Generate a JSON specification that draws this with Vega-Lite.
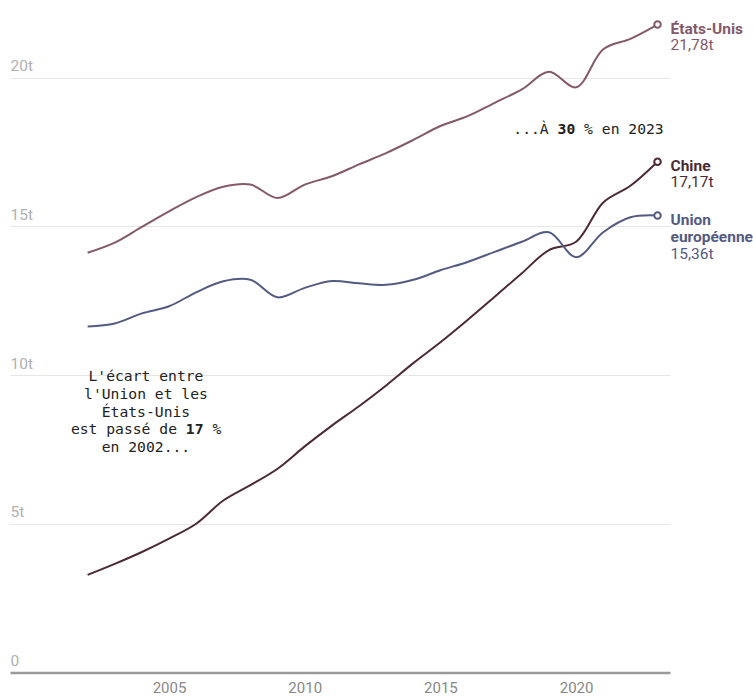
{
  "$schema": "https://vega.github.io/schema/vega-lite/v6.json",
  "width": 660,
  "height": 654.5,
  "autosize": "none",
  "padding": {"left": 10, "top": 18, "right": 83, "bottom": 23.5},
  "background": "white",
  "config": {"view": {"stroke": null}, "font": "Roboto"},
  "datasets": {
    "pib": [
      {"annee": 2002, "pays": "États-Unis", "pib": 14.11},
      {"annee": 2003, "pays": "États-Unis", "pib": 14.45},
      {"annee": 2004, "pays": "États-Unis", "pib": 14.98},
      {"annee": 2005, "pays": "États-Unis", "pib": 15.5},
      {"annee": 2006, "pays": "États-Unis", "pib": 15.98},
      {"annee": 2007, "pays": "États-Unis", "pib": 16.33},
      {"annee": 2008, "pays": "États-Unis", "pib": 16.4},
      {"annee": 2009, "pays": "États-Unis", "pib": 15.95},
      {"annee": 2010, "pays": "États-Unis", "pib": 16.4},
      {"annee": 2011, "pays": "États-Unis", "pib": 16.68},
      {"annee": 2012, "pays": "États-Unis", "pib": 17.08},
      {"annee": 2013, "pays": "États-Unis", "pib": 17.46},
      {"annee": 2014, "pays": "États-Unis", "pib": 17.9},
      {"annee": 2015, "pays": "États-Unis", "pib": 18.37},
      {"annee": 2016, "pays": "États-Unis", "pib": 18.7},
      {"annee": 2017, "pays": "États-Unis", "pib": 19.15},
      {"annee": 2018, "pays": "États-Unis", "pib": 19.6},
      {"annee": 2019, "pays": "États-Unis", "pib": 20.19},
      {"annee": 2020, "pays": "États-Unis", "pib": 19.67},
      {"annee": 2021, "pays": "États-Unis", "pib": 20.95},
      {"annee": 2022, "pays": "États-Unis", "pib": 21.3},
      {"annee": 2023, "pays": "États-Unis", "pib": 21.78},
      {"annee": 2002, "pays": "Chine", "pib": 3.28},
      {"annee": 2003, "pays": "Chine", "pib": 3.65},
      {"annee": 2004, "pays": "Chine", "pib": 4.05},
      {"annee": 2005, "pays": "Chine", "pib": 4.5},
      {"annee": 2006, "pays": "Chine", "pib": 5.0},
      {"annee": 2007, "pays": "Chine", "pib": 5.78},
      {"annee": 2008, "pays": "Chine", "pib": 6.3},
      {"annee": 2009, "pays": "Chine", "pib": 6.85},
      {"annee": 2010, "pays": "Chine", "pib": 7.6},
      {"annee": 2011, "pays": "Chine", "pib": 8.3},
      {"annee": 2012, "pays": "Chine", "pib": 8.95},
      {"annee": 2013, "pays": "Chine", "pib": 9.65},
      {"annee": 2014, "pays": "Chine", "pib": 10.4},
      {"annee": 2015, "pays": "Chine", "pib": 11.1},
      {"annee": 2016, "pays": "Chine", "pib": 11.85},
      {"annee": 2017, "pays": "Chine", "pib": 12.63},
      {"annee": 2018, "pays": "Chine", "pib": 13.42},
      {"annee": 2019, "pays": "Chine", "pib": 14.2},
      {"annee": 2020, "pays": "Chine", "pib": 14.48},
      {"annee": 2021, "pays": "Chine", "pib": 15.8},
      {"annee": 2022, "pays": "Chine", "pib": 16.36},
      {"annee": 2023, "pays": "Chine", "pib": 17.17},
      {"annee": 2002, "pays": "Union européenne", "pib": 11.63},
      {"annee": 2003, "pays": "Union européenne", "pib": 11.73},
      {"annee": 2004, "pays": "Union européenne", "pib": 12.07},
      {"annee": 2005, "pays": "Union européenne", "pib": 12.31},
      {"annee": 2006, "pays": "Union européenne", "pib": 12.78},
      {"annee": 2007, "pays": "Union européenne", "pib": 13.15},
      {"annee": 2008, "pays": "Union européenne", "pib": 13.2},
      {"annee": 2009, "pays": "Union européenne", "pib": 12.61},
      {"annee": 2010, "pays": "Union européenne", "pib": 12.93},
      {"annee": 2011, "pays": "Union européenne", "pib": 13.16},
      {"annee": 2012, "pays": "Union européenne", "pib": 13.08},
      {"annee": 2013, "pays": "Union européenne", "pib": 13.03},
      {"annee": 2014, "pays": "Union européenne", "pib": 13.2},
      {"annee": 2015, "pays": "Union européenne", "pib": 13.52},
      {"annee": 2016, "pays": "Union européenne", "pib": 13.8},
      {"annee": 2017, "pays": "Union européenne", "pib": 14.14},
      {"annee": 2018, "pays": "Union européenne", "pib": 14.48},
      {"annee": 2019, "pays": "Union européenne", "pib": 14.8},
      {"annee": 2020, "pays": "Union européenne", "pib": 13.96},
      {"annee": 2021, "pays": "Union européenne", "pib": 14.8},
      {"annee": 2022, "pays": "Union européenne", "pib": 15.3},
      {"annee": 2023, "pays": "Union européenne", "pib": 15.36}
    ],
    "etiquettes": [
      {"annee": 2023, "pays": "États-Unis", "pib": 21.78, "valeur": "21,78t"},
      {"annee": 2023, "pays": "Chine", "pib": 17.17, "valeur": "17,17t"},
      {"annee": 2023, "pays": "Union européenne", "pib": 15.36, "valeur": "15,36t"}
    ],
    "notesCentre": [
      {"annee": 2004.15, "pib": 9.94, "texte": "L'écart entre\nl'Union et les\nÉtats-Unis"},
      {"annee": 2004.15, "pib": 7.534, "texte": "en 2002..."}
    ],
    "notesDroite": [
      {"annee": 2005.294, "pib": 8.135, "texte": "est passé de"},
      {"annee": 2018.99, "pib": 18.23, "texte": "...À"}
    ],
    "notesGauche": [
      {"annee": 2006.598, "pib": 8.135, "texte": "%"},
      {"annee": 2020.295, "pib": 18.23, "texte": "% en 2023"}
    ],
    "gras": [
      {"annee": 2005.946, "pib": 8.135, "texte": "17"},
      {"annee": 2019.643, "pib": 18.23, "texte": "30"}
    ]
  },
  "encoding": {
    "x": {
      "field": "annee", "type": "quantitative",
      "scale": {"domain": [1999.14, 2023.46], "nice": false, "zero": false},
      "axis": {
        "values": [2005, 2010, 2015, 2020], "format": "d", "title": null,
        "grid": false, "ticks": false, "domainColor": "#9a9a9a", "domainWidth": 2.5,
        "labelColor": "#888888", "labelFontSize": 15, "labelFont": "Roboto",
        "labelPadding": 8, "labelFlush": false
      }
    },
    "y": {
      "field": "pib", "type": "quantitative",
      "scale": {"domain": [0, 22], "nice": false},
      "axis": {
        "values": [0, 5, 10, 15, 20], "title": null,
        "labelExpr": "datum.value == 0 ? '0' : datum.value + 't'",
        "grid": true, "gridColor": "#e6e6e6", "gridWidth": 1,
        "domain": false, "ticks": false, "tickSize": 0,
        "labelAlign": "left", "labelBaseline": "alphabetic", "labelPadding": 0,
        "labelOffset": -7, "labelColor": "#b0b0b0", "labelFontSize": 15.5,
        "labelFont": "Roboto"
      }
    }
  },
  "layer": [
    {
      "data": {"name": "pib"},
      "mark": {"type": "line", "interpolate": "catmull-rom", "strokeWidth": 2},
      "encoding": {
        "color": {
          "field": "pays", "type": "nominal", "legend": null,
          "scale": {"domain": ["États-Unis", "Chine", "Union européenne"], "range": ["#84596a", "#4b2a34", "#545b82"]}
        }
      }
    },
    {
      "data": {"name": "etiquettes"},
      "mark": {"type": "point", "shape": "circle", "filled": false, "fill": "white", "fillOpacity": 1, "opacity": 1, "size": 42, "strokeWidth": 2},
      "encoding": {
        "color": {"field": "pays", "type": "nominal", "legend": null}
      }
    },
    {
      "data": {"name": "etiquettes"},
      "mark": {"type": "text", "align": "left", "baseline": "top", "dx": 13, "dy": -3, "fontWeight": "bold", "fontSize": 15.5, "font": "Roboto", "lineBreak": " ", "lineHeight": 17.5},
      "encoding": {
        "text": {"field": "pays"},
        "color": {"field": "pays", "type": "nominal", "legend": null}
      }
    },
    {
      "data": {"name": "etiquettes"},
      "transform": [{"filter": "datum.pays != 'Union européenne'"}],
      "mark": {"type": "text", "align": "left", "baseline": "top", "dx": 13, "dy": 13.5, "fontSize": 15.5, "font": "Roboto"},
      "encoding": {
        "text": {"field": "valeur"},
        "color": {"field": "pays", "type": "nominal", "legend": null}
      }
    },
    {
      "data": {"name": "etiquettes"},
      "transform": [{"filter": "datum.pays == 'Union européenne'"}],
      "mark": {"type": "text", "align": "left", "baseline": "top", "dx": 13, "dy": 31.5, "fontSize": 15.5, "font": "Roboto"},
      "encoding": {
        "text": {"field": "valeur"},
        "color": {"field": "pays", "type": "nominal", "legend": null}
      }
    },
    {
      "data": {"name": "notesCentre"},
      "mark": {"type": "text", "align": "center", "baseline": "middle", "font": "DejaVu Sans Mono", "fontSize": 14.7, "lineBreak": "\n", "lineHeight": 17.9, "color": "#222222"},
      "encoding": {"text": {"field": "texte"}}
    },
    {
      "data": {"name": "notesDroite"},
      "mark": {"type": "text", "align": "right", "baseline": "middle", "font": "DejaVu Sans Mono", "fontSize": 14.7, "color": "#222222"},
      "encoding": {"text": {"field": "texte"}}
    },
    {
      "data": {"name": "notesGauche"},
      "mark": {"type": "text", "align": "left", "baseline": "middle", "font": "DejaVu Sans Mono", "fontSize": 14.7, "color": "#222222"},
      "encoding": {"text": {"field": "texte"}}
    },
    {
      "data": {"name": "gras"},
      "mark": {"type": "text", "align": "center", "baseline": "middle", "font": "DejaVu Sans Mono", "fontSize": 14.7, "fontWeight": "bold", "color": "#222222"},
      "encoding": {"text": {"field": "texte"}}
    }
  ]
}
